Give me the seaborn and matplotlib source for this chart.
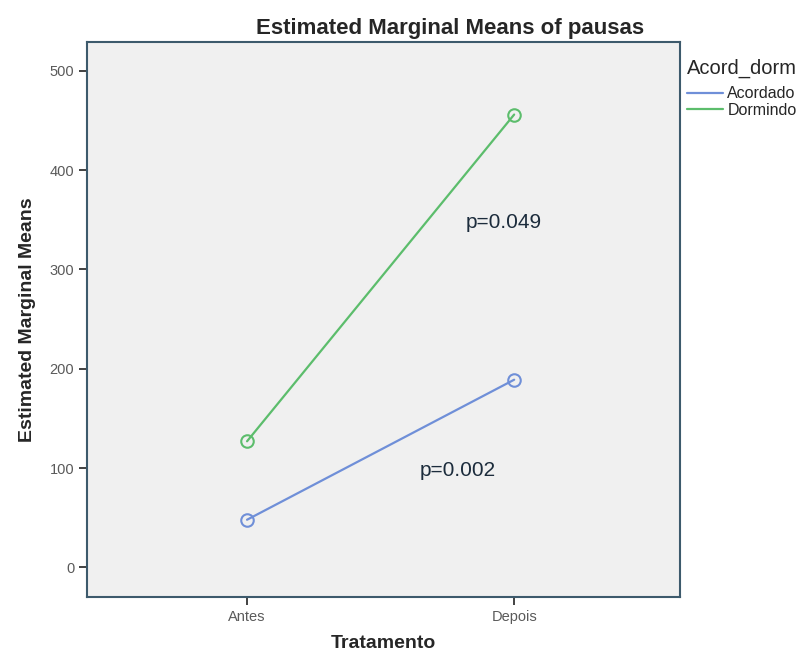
import numpy as np
import pandas as pd
import matplotlib.pyplot as plt
import seaborn as sns

tratamento = ["Antes", "Depois"]
acordado = [48, 189]
dormindo = [127, 456]
grupos = ["Acordado", "Dormindo"]

df = pd.DataFrame({
    "Tratamento": tratamento * 2,
    "media": acordado + dormindo,
    "Acord_dorm": [grupos[0]] * 2 + [grupos[1]] * 2,
})

sns.set_style("white")
plt.rcParams["font.family"] = ["Liberation Sans", "DejaVu Sans"]

fig = plt.figure(figsize=(7.96, 6.57), dpi=100)
ax = fig.add_axes([0.109, 0.091, 0.745, 0.845])
ax.set_facecolor("#f0f0f0")

palette = {"Acordado": "#6f8fd8", "Dormindo": "#5cbd6c"}
sns.lineplot(data=df, x="Tratamento", y="media", hue="Acord_dorm",
             palette=palette, marker="o", markersize=9, linewidth=1.6,
             sort=False, ax=ax)
for ln in ax.lines:
    ln.set_markerfacecolor("none")
    ln.set_markeredgecolor(ln.get_color())
    ln.set_markeredgewidth(1.5)

ax.set_xlim(-0.6, 1.62)
ax.set_ylim(-30, 529)
ax.set_yticks([0, 100, 200, 300, 400, 500])
ax.tick_params(axis="both", bottom=True, left=True, direction="out", length=6,
               width=1.3, color="#333333", labelsize=10.5, labelcolor="#5a5a5a", pad=3)
for s in ax.spines.values():
    s.set_color("#3d5a6c")
    s.set_linewidth(1.5)

ax.set_xlabel("Tratamento", fontsize=14, fontweight="bold", labelpad=8)
ax.set_ylabel("Estimated Marginal Means", fontsize=14, fontweight="bold", labelpad=10)
ax.set_title("Estimated Marginal Means of pausas", fontsize=16,
             fontweight="bold", pad=6, x=0.612)

ax.text(0.96, 347, "p=0.049", fontsize=15, color="#1c2c3c", ha="center", va="center")
ax.text(0.79, 98, "p=0.002", fontsize=15, color="#1c2c3c", ha="center", va="center")

leg = ax.legend(title="Acord_dorm", loc="upper left", bbox_to_anchor=(0.994, 0.99),
                frameon=False, fontsize=11.5, title_fontsize=14.5,
                handlelength=2.2, handletextpad=0.3, labelspacing=0.1,
                borderaxespad=0.3, alignment="left")
leg._legend_box.sep = 6
for h in leg.legend_handles:
    h.set_marker("")

fig.savefig("out.png", dpi=100)
plt.close(fig)
